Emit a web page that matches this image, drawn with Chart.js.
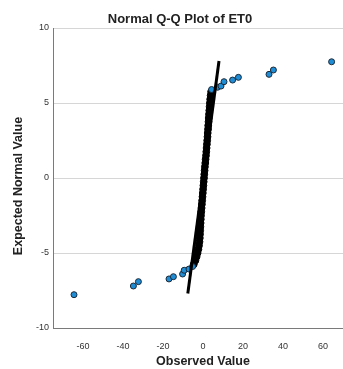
<!DOCTYPE html>
<html>
<head>
<meta charset="utf-8">
<title>Normal Q-Q Plot of ET0</title>
<script src="https://cdn.jsdelivr.net/npm/chart.js@4.4.0/dist/chart.umd.min.js"></script>
<style>
  html, body { margin: 0; padding: 0; background: #fff; }
  canvas { display: block; }
</style>
</head>
<body>
<canvas id="qqChart" width="343" height="369"></canvas>
<script>
// observed vs expected normal values
var bandObserved = [-4.6, -3.8, -3.2, -2.7, -2.3, -2.0, -1.75, -1.6, -1.5, -1.4, -1.3, -1.2,
    -1.1, -1.0, -0.85, -0.7, -0.55, -0.4, -0.25, -0.1, 0.05, 0.2, 0.35, 0.5, 0.65, 0.8,
    0.95, 1.15, 1.3, 1.5, 1.65, 1.8, 1.95, 2.1, 2.25, 2.35, 2.5, 2.6, 2.75, 2.85, 3.0,
    3.15, 3.3, 3.45, 3.6, 3.8, 4.05];
var bandExpected = [-5.75, -5.5, -5.25, -5.0, -4.75, -4.5, -4.25, -4.0, -3.75, -3.5, -3.25, -3.0,
    -2.75, -2.5, -2.25, -2.0, -1.75, -1.5, -1.25, -1.0, -0.75, -0.5, -0.25, 0, 0.25, 0.5,
    0.75, 1.0, 1.25, 1.5, 1.75, 2.0, 2.25, 2.5, 2.75, 3.0, 3.25, 3.5, 3.75, 4.0, 4.25,
    4.5, 4.75, 5.0, 5.25, 5.5, 5.75];

var lowObserved = [-64.5, -34.8, -32.3, -17.0, -14.8, -10.2, -9.4, -7.0, -5.2];
var lowExpected = [-7.78, -7.2, -6.91, -6.73, -6.58, -6.4, -6.15, -6.07, -5.9];
var highObserved = [4.3, 7.3, 9.0, 10.5, 14.8, 17.7, 33.0, 35.2, 64.3];
var highExpected = [5.9, 6.05, 6.13, 6.42, 6.53, 6.71, 6.91, 7.2, 7.75];

// reference line end points
var lineObserved = [-7.6, 8.0];
var lineExpected = [-7.7, 7.8];

var xTicks = [-60, -40, -20, 0, 20, 40, 60];
var yTicks = [-10, -5, 0, 5, 10];

function toPoints(xs, ys) {
    return xs.map(function(v, i) { return { x: v, y: ys[i] }; });
}

var fontFamily = "'Liberation Sans', Arial, sans-serif";

// titles drawn at fixed spots to match the layout
var titlesPlugin = {
    id: 'titles',
    afterDraw: function(chart) {
        var ctx = chart.ctx;
        ctx.save();
        ctx.fillStyle = '#222';
        ctx.textAlign = 'center';
        ctx.textBaseline = 'middle';
        ctx.font = 'bold 13px ' + fontFamily;
        ctx.fillText('Normal Q-Q Plot of ET0', 180, 19);
        ctx.font = 'bold 12.5px ' + fontFamily;
        ctx.fillText('Observed Value', 203, 362);
        ctx.translate(19, 186);
        ctx.rotate(-Math.PI / 2);
        ctx.fillText('Expected Normal Value', 0, 0);
        ctx.restore();
    }
};

var blue = '#1f8dd6';
var edge = '#1a2a3a';

var ctx = document.getElementById('qqChart').getContext('2d');
var qqChart = new Chart(ctx, {
    type: 'scatter',
    data: {
        datasets: [{
            label: 'line',
            data: toPoints(lineObserved, lineExpected),
            showLine: true,
            borderColor: '#000',
            borderWidth: 3,
            pointRadius: 0,
            order: 0
        }, {
            label: 'low',
            data: toPoints(lowObserved, lowExpected),
            backgroundColor: blue,
            borderColor: edge,
            borderWidth: 1,
            pointRadius: 3,
            order: 1
        }, {
            label: 'high',
            data: toPoints(highObserved, highExpected),
            backgroundColor: blue,
            borderColor: edge,
            borderWidth: 1,
            pointRadius: 3,
            order: 1
        }, {
            label: 'band',
            data: toPoints(bandObserved, bandExpected),
            backgroundColor: '#000',
            borderColor: '#000',
            borderWidth: 1,
            pointRadius: 3.4,
            order: 2
        }]
    },
    options: {
        responsive: false,
        animation: false,
        layout: { autoPadding: false, padding: { top: 28, left: 0, right: 0, bottom: 0 } },
        plugins: {
            legend: { display: false },
            tooltip: { enabled: false },
            title: { display: false }
        },
        scales: {
            x: {
                type: 'linear',
                min: -75,
                max: 70,
                grid: { display: false },
                border: { display: true, color: '#7a7a7a', width: 1 },
                ticks: {
                    stepSize: 20,
                    includeBounds: false,
                    padding: 5,
                    color: '#333',
                    font: { family: fontFamily, size: 9 },
                    maxRotation: 0,
                    callback: function(v) { return xTicks.indexOf(v) >= 0 ? String(v) : ''; }
                },
                afterFit: function(scale) { scale.height = 41; }
            },
            y: {
                type: 'linear',
                min: -10,
                max: 10,
                grid: {
                    drawTicks: false,
                    color: function(c) {
                        return c.tick && c.tick.value === -10 ? 'rgba(0,0,0,0)' : '#d6d6d6';
                    }
                },
                border: { display: true, color: '#7a7a7a', width: 1 },
                ticks: {
                    stepSize: 5,
                    padding: 4,
                    color: '#333',
                    font: { family: fontFamily, size: 9 },
                    callback: function(v) { return yTicks.indexOf(v) >= 0 ? String(v) : ''; }
                },
                afterFit: function(scale) { scale.width = 53; }
            }
        }
    },
    plugins: [titlesPlugin]
});
</script>
</body>
</html>
